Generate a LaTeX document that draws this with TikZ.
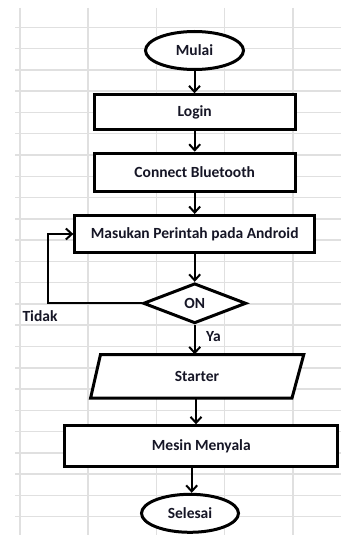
\documentclass[tikz,border=0pt]{standalone}
\usepackage{fontspec}
\setmainfont{Carlito}
\usetikzlibrary{shapes.geometric,arrows.meta}
\definecolor{gridc}{RGB}{224,224,224}
\definecolor{txt}{RGB}{22,22,38}
\tikzset{
  every node/.style={font=\fontsize{15.5}{18}\selectfont\bfseries, text=txt},
  procbox/.style={draw=black, line width=3pt, rectangle, inner sep=0pt, fill=white},
  termbox/.style={draw=black, line width=3pt, ellipse, inner sep=0pt, fill=white},
  decbox/.style={draw=black, line width=3pt, diamond, inner sep=0pt, fill=white},
  arr/.style={draw=black, line width=2pt, -{Straight Barb[length=6pt,width=11pt]}},
  gridline/.style={draw=gridc, line width=1.5pt},
  lbl/.style={inner sep=0pt}
}
\begin{document}
\begin{tikzpicture}[x=1pt,y=-1pt]
\useasboundingbox (0,0) rectangle (341,535);
\fill[white] (0,0) rectangle (341,535);
% grid
\foreach \xx in {20,88.2,156.5,224.7,293} {\draw[gridline] (\xx,8) -- (\xx,535);}
\foreach \k in {0,...,23} {\draw[gridline] (15,27.3+21.28*\k) -- (341,27.3+21.28*\k);}
% nodes
\node[termbox, minimum width=98pt, minimum height=38pt] (mulai) at (194.5,50.5) {Mulai};
\node[procbox, minimum width=201pt, minimum height=34.4pt] (login) at (194.7,112) {Login};
\node[procbox, minimum width=201pt, minimum height=38.6pt] (bt) at (194.7,172.5) {Connect Bluetooth};
\node[procbox, minimum width=239.7pt, minimum height=37pt] (masuk) at (194.7,234) {Masukan Perintah pada Android};
\node[decbox, minimum width=103pt, minimum height=40pt] (on) at (194.7,303.3) {ON};
\draw[black, line width=3pt, line join=miter, fill=white] (100.5,354.5) -- (303.8,354.5) -- (292,398) -- (90.6,398) -- cycle;
\node[inner sep=0pt, minimum width=200pt, minimum height=43.5pt] (starter) at (197,376.3) {Starter};
\node[procbox, minimum width=273pt, minimum height=41pt] (mesin) at (201.3,446.3) {Mesin Menyala};
\node[termbox, minimum width=97pt, minimum height=38pt] (selesai) at (190,513.3) {Selesai};
\coordinate (loopx) at (48.3,0);
% connectors
\draw[arr] (mulai.south) -- (mulai.south |- login.north);
\draw[arr] (login.south) -- (login.south |- bt.north);
\draw[arr] (bt.south) -- (bt.south |- masuk.north);
\draw[arr] (masuk.south) -- (masuk.south |- on.north);
\draw[arr] (on.south) -- (on.south |- starter.north);
\draw[arr] ([xshift=-1pt]starter.south) -- ([xshift=-1pt]starter.south |- mesin.north);
\draw[arr] ([xshift=-9.6pt]mesin.south) -- ([xshift=-9.6pt]mesin.south |- selesai.north);
\draw[arr, line join=miter] (on.west) -- (on.west -| loopx) |- (masuk.west);
% labels
\node[lbl] (tidak) at (40,316) {Tidak};
\node[lbl] (ya) at (213.5,337) {Ya};
\end{tikzpicture}
\end{document}
